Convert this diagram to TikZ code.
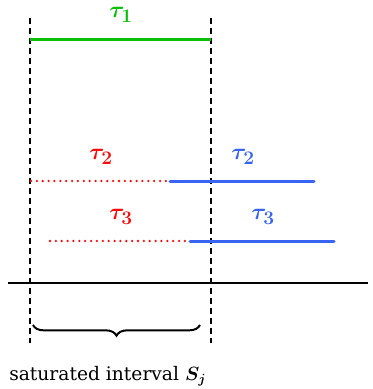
\documentclass[tikz,border=0pt]{standalone}
\usepackage{amsmath,amssymb,bm}
\usepackage{fontspec}
\setmainfont{DejaVu Serif}
\definecolor{jobgreen}{RGB}{10,190,10}
\definecolor{jobred}{RGB}{250,10,10}
\definecolor{jobblue}{RGB}{55,100,240}
\usetikzlibrary{arrows.meta,positioning,decorations.pathreplacing,calc}

\begin{document}
\begin{tikzpicture}[x=0.75pt,y=-0.75pt,
  bound/.style={black,line width=2pt,dash pattern=on 4.5pt off 3pt},
  run/.style={line width=2.25pt},
  wait/.style={jobred,line width=1.9pt,dash pattern=on 0pt off 4.4pt,line cap=round},
  lbl/.style={font=\fontsize{19}{22}\selectfont,inner sep=1pt}
]
  \useasboundingbox (0,0) rectangle (373,389);

  % interval boundaries
  \coordinate (lt) at (30,18);
  \coordinate (lb) at (30,343);
  \coordinate (rt) at (211,18);
  \coordinate (rb) at (211,343);
  \draw[bound] (lt) -- (lb);
  \draw[bound] (rt) -- (rb);

  % job 1
  \coordinate (a1) at (30,39);
  \coordinate (b1) at (211,39);
  \draw[run,jobgreen] (a1) -- (b1);
  \node[lbl,text=jobgreen] (t1) at (121,15) {$\bm{\tau_1}$};

  % job 2
  \coordinate (a2) at (31,181);
  \coordinate (m2) at (170,181);
  \coordinate (b2) at (314,181);
  \draw[wait] (a2) -- (m2);
  \draw[run,jobblue,line cap=round] (m2) -- (b2);
  \node[lbl,text=jobred] (t2r) at (101,157) {$\bm{\tau_2}$};
  \node[lbl,text=jobblue] (t2b) at (243,157) {$\bm{\tau_2}$};

  % job 3
  \coordinate (a3) at (50,241);
  \coordinate (m3) at (190,241);
  \coordinate (b3) at (334,241);
  \draw[wait] (a3) -- (m3);
  \draw[run,jobblue,line cap=round] (m3) -- (b3);
  \node[lbl,text=jobred] (t3r) at (121,217) {$\bm{\tau_3}$};
  \node[lbl,text=jobblue] (t3b) at (263,217) {$\bm{\tau_3}$};

  % time axis
  \coordinate (x0) at (8,283);
  \coordinate (x1) at (368,283);
  \draw[line width=1.8pt] (x0) -- (x1);

  % saturated interval
  \coordinate (s0) at (33,325);
  \coordinate (s1) at (200,325);
  \draw[line width=1.5pt,decorate,decoration={brace,mirror,amplitude=8pt}] (s0) -- (s1);
  \node[anchor=west,font=\fontsize{14}{16}\selectfont,inner sep=0pt] (sat) at (9,376) {saturated interval $\bm{S_j}$};
\end{tikzpicture}
\end{document}
